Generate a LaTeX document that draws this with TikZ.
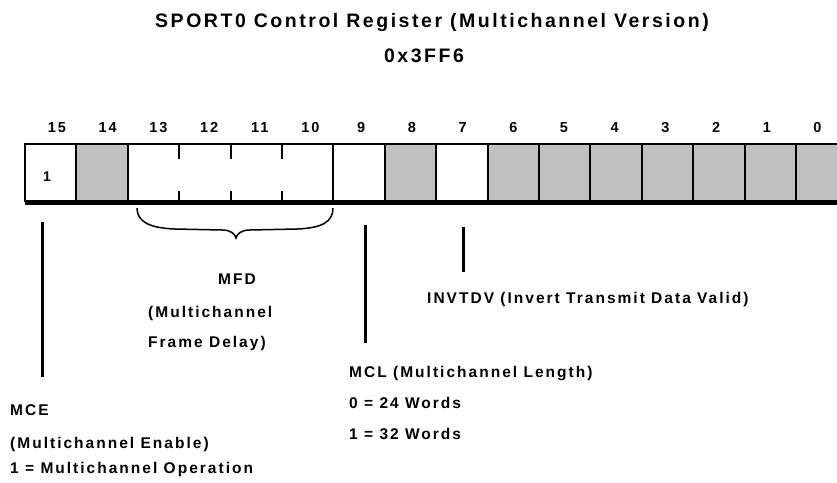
\documentclass[tikz,border=0pt]{standalone}
\usepackage{fontspec}
\setmainfont{Liberation Sans}
\newfontfamily\labfont[LetterSpace=13]{Liberation Sans}
\definecolor{regray}{RGB}{192,192,192}
\begin{document}
\begin{tikzpicture}[x=1pt,y=-1pt,
  lab/.style={font=\labfont\bfseries\fontsize{15.5}{18}\selectfont, inner sep=0pt, anchor=base west},
  ttl/.style={font=\labfont\bfseries\fontsize{19.5}{23}\selectfont, inner sep=0pt, anchor=base},
  bitnum/.style={font=\labfont\bfseries\fontsize{14.5}{17}\selectfont, inner sep=0pt, anchor=base},
  cellw/.style={minimum width=51.4pt, minimum height=57pt, inner sep=0pt, outer sep=0pt, anchor=north west, fill=white},
  cellg/.style={cellw, fill=regray},
  reg/.style={line width=2pt},
  ptr/.style={line width=3pt},
  bracestyle/.style={line width=1.5pt}]
\useasboundingbox (0,0) rectangle (837,482);
\clip (0,0) rectangle (837,482);
% title
\node[ttl] (title) at (432,27) {SPORT0 Control Register (Multichannel Version)};
\node[ttl] (addr) at (424,62) {0x3FF6};
% cells
\foreach \b/\s in {15/cellw,14/cellg,13/cellw,12/cellw,11/cellw,10/cellw,9/cellw,8/cellg,7/cellw,6/cellg,5/cellg,4/cellg,3/cellg,2/cellg,1/cellg,0/cellg}{
  \pgfmathsetmacro\xx{25+(15-\b)*51.4}
  \pgfmathsetmacro\nx{57+(15-\b)*50.7}
  \node[\s] (c\b) at (\xx,144) {};
  \node[bitnum] (n\b) at (\nx,132) {\b};
}
\draw[reg] (c15.north west) rectangle (c0.south east);
\foreach \b in {15,14,10,9,8,7,6,5,4,3,2,1}{
  \draw[reg] (c\b.north east) -- (c\b.south east);
}
\foreach \b in {13,12,11}{
  \draw[reg] (c\b.north east) -- ++(0,15);
  \draw[reg] (c\b.south east) -- ++(0,-10);
}
\draw[line width=5pt] ([yshift=-1.5pt]c15.south west) -- ([yshift=-1.5pt]c0.south east);
\node[font=\labfont\bfseries\fontsize{14}{16}\selectfont, inner sep=0pt] (one) at (47,177) {1};
% brace under MFD
\draw[bracestyle] (137,208) .. controls (137,222) and (150,228) .. (175,229) -- (222,230)
  .. controls (231,230) and (235,234) .. (236,238)
  .. controls (237,234) and (241,230) .. (250,230) -- (297,229)
  .. controls (322,228) and (333,222) .. (333,208);
% pointer lines
\coordinate (mceT) at (42,222);
\coordinate (mceB) at (42,377);
\coordinate (mclT) at (365,225);
\coordinate (mclB) at (365,343);
\coordinate (invT) at (463,227);
\coordinate (invB) at (463,272);
\draw[ptr] (mceT) -- (mceB);
\draw[ptr] (mclT) -- (mclB);
\draw[ptr] (invT) -- (invB);
% labels
\node[lab, anchor=base] (mfd) at (237,284.5) {MFD};
\node[lab] (mfd2) at (148,317.5) {(Multichannel};
\node[lab] (mfd3) at (148,347.5) {Frame Delay)};
\node[lab] (inv) at (427,303.5) {INVTDV (Invert Transmit Data Valid)};
\node[lab] (mcl1) at (349,377.5) {MCL (Multichannel Length)};
\node[lab] (mcl2) at (349,408.5) {0 = 24 Words};
\node[lab] (mcl3) at (349,439.5) {1 = 32 Words};
\node[lab] (mce1) at (10,415.5) {MCE};
\node[lab] (mce2) at (10,448.5) {(Multichannel Enable)};
\node[lab] (mce3) at (10,473.5) {1 = Multichannel Operation};
\end{tikzpicture}
\end{document}
